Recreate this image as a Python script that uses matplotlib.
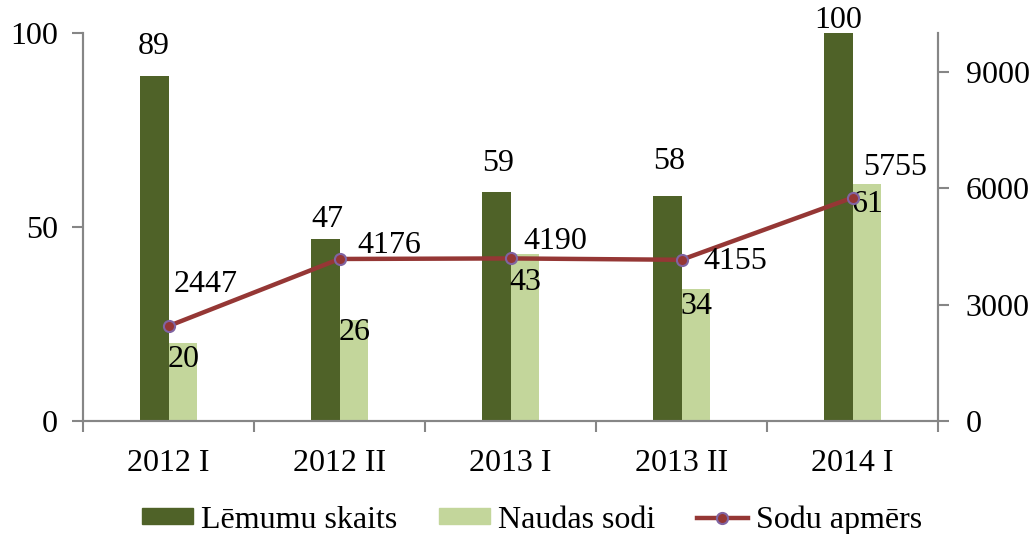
import matplotlib
matplotlib.use("Agg")
import matplotlib.pyplot as plt
from matplotlib.lines import Line2D
from matplotlib.patches import Patch
import numpy as np

categories = ["2012 I", "2012 II", "2013 I", "2013 II", "2014 I"]
lemumu = [89, 47, 59, 58, 100]
naudas = [20, 26, 43, 34, 61]
apmers = [2447, 4176, 4190, 4155, 5755]
series_names = ["Lēmumu skaits", "Naudas sodi", "Sodu apmērs"]

# label offsets in pixels (dx, dy up)
off_lem = [(0, 29), (2, 19), (2, 29), (2, 34), (0, 13)]
off_nau = [(1, -16), (1, -12), (1, -28), (1, -17), (1, -20)]
off_apm = [(37.5, 42), (49.5, 13), (44.5, 17), (53.5, -2), (42.5, 30)]

dark = "#4F6228"
light = "#C3D69B"
red = "#953735"
purple = "#8064A2"
grey = "#868686"

plt.rcParams['font.family'] = ['Liberation Serif', 'DejaVu Serif']
FS = 23

fig = plt.figure(figsize=(10.33, 5.34), dpi=100)
ax = fig.add_axes([83/1033, 1-421/534, (938-83)/1033, (421-33)/534])
ax2 = ax.twinx()

x = np.arange(len(categories))
w = 0.167
ax.bar(x - w/2, lemumu, w, color=dark, zorder=2)
ax.bar(x + w/2, naudas, w, color=light, zorder=2)
ax2.plot(x, apmers, color=red, lw=3.2, marker='o', ms=8,
         markerfacecolor=red, markeredgecolor=purple, markeredgewidth=1.5, zorder=3)

ax.set_xlim(-0.5, len(categories) - 0.5)
ax.set_ylim(0, 100)
ax2.set_ylim(0, 10000)
ax.set_yticks([0, 50, 100])
ax2.set_yticks([0, 3000, 6000, 9000])

ax.set_xticks(x)
ax.set_xticklabels(categories, fontsize=FS)
ax.set_xticks(np.arange(len(categories) + 1) - 0.5, minor=True)
ax.tick_params(axis='x', which='major', length=0, pad=20)
ax.tick_params(axis='x', which='minor', length=8, width=1.5, color=grey, direction='out')
ax.tick_params(axis='y', length=8, width=1.5, color=grey, pad=10, labelsize=FS)
ax2.tick_params(axis='y', length=8, width=1.5, color=grey, pad=12, labelsize=FS)

for a in (ax, ax2):
    a.spines['top'].set_visible(False)
    for s in ('left', 'right', 'bottom'):
        a.spines[s].set_color(grey)
        a.spines[s].set_linewidth(1.5)

k = 0.72
for i, v in enumerate(lemumu):
    ax.annotate(str(v), xy=(x[i] - w/2, v), xytext=(off_lem[i][0]*k, off_lem[i][1]*k),
                textcoords='offset points', ha='center', va='center', fontsize=FS, zorder=5)
for i, v in enumerate(naudas):
    ax.annotate(str(v), xy=(x[i] + w/2, v), xytext=(off_nau[i][0]*k, off_nau[i][1]*k),
                textcoords='offset points', ha='center', va='center', fontsize=FS, zorder=5)
for i, v in enumerate(apmers):
    ax2.annotate(str(v), xy=(x[i], v), xytext=(off_apm[i][0]*k, off_apm[i][1]*k),
                 textcoords='offset points', ha='center', va='center', fontsize=FS, zorder=5)

handles = [Patch(color=dark), Patch(color=light),
           Line2D([], [], color=red, lw=3.2, marker='o', ms=8,
                  markerfacecolor=red, markeredgecolor=purple, markeredgewidth=1.5)]
fig.legend(handles, series_names, loc='center', bbox_to_anchor=(0.515, 1-520/534), ncol=3,
           frameon=False, fontsize=FS, handlelength=1.6, handleheight=0.4,
           handletextpad=0.25, columnspacing=1.3, borderaxespad=0, borderpad=0)

fig.savefig("out.png", dpi=100)
